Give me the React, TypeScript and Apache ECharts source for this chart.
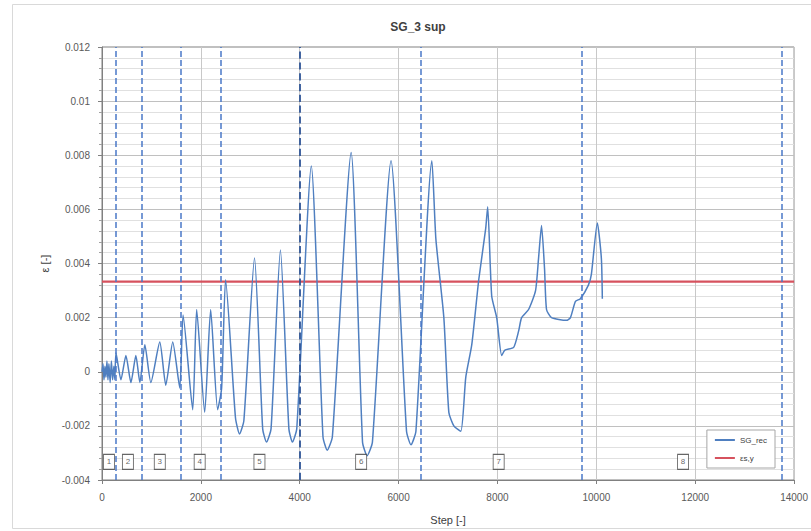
import React, { useEffect, useRef } from "react";
import * as echarts from "echarts";

const sgSteps = [
  0, 20, 40, 60, 80, 100, 120, 140, 165, 190, 215, 240, 260,
  282, 383, 484, 585, 685, 766,
  867, 988, 1169, 1290, 1431, 1573,
  1640, 1835, 1915, 2077, 2198, 2339,
  2420, 2500, 2700, 2782, 2870, 3085, 3250, 3327, 3420, 3609, 3780, 3851, 3940,
  4234, 4470, 4556, 4660, 5040, 5270, 5363, 5470, 5847, 6160, 6250, 6350,
  6673, 6754, 6915, 7016, 7117, 7258, 7359, 7480, 7621, 7762, 7802, 7883, 7984,
  8085, 8150, 8327, 8427, 8488, 8629, 8770, 8831, 8891, 8952, 8992, 9093, 9395,
  9476, 9577, 9677, 9839, 9899, 10020, 10101, 10121,
];
const sgStrain = [
  0.0, 0.0003, -0.0003, 0.0002, -0.0002, 0.0004, -0.0003, 0.0003, -0.0004, 0.0004, -0.0003, 0.0002, -0.0003,
  0.0007, -0.0003, 0.0006, -0.0004, 0.0006, -0.0004,
  0.001, -0.0004, 0.0011, -0.0005, 0.0011, -0.0006,
  0.0021, -0.0014, 0.0023, -0.0015, 0.0023, -0.0014,
  -0.0006, 0.0034, -0.0017, -0.0023, -0.0018, 0.0042, -0.0021, -0.0026, -0.0021, 0.0045, -0.0021, -0.0026, -0.0021,
  0.0076, -0.0024, -0.0029, -0.0024, 0.0081, -0.0026, -0.0031, -0.0026, 0.0078, -0.0022, -0.0027, -0.0022,
  0.0078, 0.0049, 0.002, -0.0015, -0.002, -0.0022, -0.0002, 0.001, 0.0034, 0.0053, 0.0061, 0.0028, 0.002,
  0.0006, 0.0008, 0.0009, 0.0015, 0.002, 0.0023, 0.003, 0.0042, 0.0054, 0.0038, 0.0023, 0.002, 0.0019,
  0.002, 0.0026, 0.0027, 0.0032, 0.0036, 0.0055, 0.0042, 0.0027,
];

const yieldSteps = [0, 14000];
const yieldStrain = [0.00333, 0.00333];

const phaseSteps = [280, 800, 1590, 2400, 4000, 6450, 9700, 13750];

const boxSteps = [141, 524, 1169, 1976, 3185, 5242, 8024, 11754];
const boxStrain = [-0.00333, -0.00333, -0.00333, -0.00333, -0.00333, -0.00333, -0.00333, -0.00333];
const boxLabels = ["1", "2", "3", "4", "5", "6", "7", "8"];

const FONT = "Liberation Sans";

export default function App() {
  const ref = useRef<HTMLDivElement>(null);
  useEffect(() => {
    if (!ref.current) return;
    const chart = echarts.init(ref.current, null, { renderer: "svg" });
    const sgData = sgSteps.map((s, i) => [s, sgStrain[i]]);
    const yData = yieldSteps.map((s, i) => [s, yieldStrain[i]]);
    const boxData = boxSteps.map((s, i) => ({ value: [s, boxStrain[i]], name: boxLabels[i] }));
    chart.setOption({
      animation: false,
      backgroundColor: "#ffffff",
      textStyle: { fontFamily: FONT },
      title: {
        text: "SG_3 sup",
        left: 413,
        textAlign: "center",
        top: 16,
        textStyle: { fontFamily: FONT, fontSize: 12, fontWeight: "bold", color: "#404040" },
      },
      graphic: [
        {
          type: "rect",
          shape: { x: 12.5, y: 4.5, width: 820, height: 524 },
          style: { fill: "none", stroke: "#d9d9d9", lineWidth: 1 },
          silent: true,
        },
      ],
      grid: {
        left: 102,
        right: 14,
        top: 47,
        bottom: 51,
        show: true,
        borderColor: "#808080",
        borderWidth: 1,
        backgroundColor: "transparent",
      },
      legend: {
        data: [
          { name: "SG_rec", icon: "rect" },
          { name: "εs,y", icon: "rect" },
        ],
        orient: "vertical",
        right: 36,
        top: 430,
        itemWidth: 20,
        itemHeight: 2,
        itemGap: 10,
        padding: [6, 8, 6, 8],
        backgroundColor: "#ffffff",
        borderColor: "#a6a6a6",
        borderWidth: 1,
        borderRadius: 0,
        textStyle: { fontFamily: FONT, fontSize: 8, color: "#404040" },
      },
      xAxis: {
        type: "value",
        min: 0,
        max: 14000,
        interval: 2000,
        name: "Step [-]",
        nameLocation: "middle",
        nameGap: 34,
        nameTextStyle: { fontFamily: FONT, fontSize: 11, color: "#404040" },
        axisLine: { show: true, onZero: false, lineStyle: { color: "#808080" } },
        axisTick: { show: true, length: 4, lineStyle: { color: "#808080" } },
        axisLabel: {
          fontFamily: FONT,
          fontSize: 10,
          color: "#595959",
          margin: 12,
          formatter: (v: number) => String(Math.round(v)),
        },
        splitLine: { show: true, lineStyle: { color: "#c8c8c8", width: 1 } },
      },
      yAxis: {
        type: "value",
        min: -0.004,
        max: 0.012,
        interval: 0.002,
        name: "ε [-]",
        nameLocation: "middle",
        nameGap: 50,
        nameTextStyle: { fontFamily: FONT, fontSize: 11, color: "#404040" },
        axisLine: { show: true, onZero: false, lineStyle: { color: "#808080" } },
        axisTick: { show: true, length: 4, lineStyle: { color: "#808080" } },
        minorTick: { show: true, splitNumber: 5, length: 3, lineStyle: { color: "#a0a0a0" } },
        axisLabel: {
          fontFamily: FONT,
          fontSize: 10,
          color: "#595959",
          margin: 12,
          formatter: (v: number) => String(parseFloat(v.toFixed(4))),
        },
        splitLine: { show: true, lineStyle: { color: "#c0c0c0", width: 1 } },
        minorSplitLine: { show: true, lineStyle: { color: "#e0e0e0", width: 1 } },
      },
      series: [
        {
          name: "εs,y",
          type: "line",
          data: yData,
          showSymbol: false,
          lineStyle: { color: "#d6525e", width: 2.2 },
          itemStyle: { color: "#d6525e" },
          z: 3,
        },
        {
          name: "SG_rec",
          type: "line",
          data: sgData,
          showSymbol: false,
          smooth: 0.2,
          lineStyle: { color: "#4f7fc0", width: 1.5 },
          itemStyle: { color: "#4f7fc0" },
          z: 4,
          markLine: {
            silent: true,
            symbol: ["none", "none"],
            label: { show: false },
            lineStyle: { color: "#4a78c8", type: "dashed", width: 1.5 },
            data: phaseSteps.map((s) => ({
              xAxis: s,
              lineStyle: s === 4000 ? { color: "#2f5597", type: "dashed", width: 1.8 } : undefined,
            })),
          },
        },
        {
          name: "phase",
          type: "scatter",
          data: boxData,
          symbol: "rect",
          symbolSize: [11, 15],
          itemStyle: { color: "#ffffff", borderColor: "#404040", borderWidth: 1 },
          label: {
            show: true,
            position: "inside",
            formatter: (p: any) => p.name,
            fontFamily: FONT,
            fontSize: 8,
            color: "#404040",
          },
          z: 5,
        },
      ],
    });
    return () => chart.dispose();
  }, []);
  return (
    <div
      ref={ref}
      style={{ position: "fixed", left: 0, top: 0, width: 811, height: 531 }}
    />
  );
}
